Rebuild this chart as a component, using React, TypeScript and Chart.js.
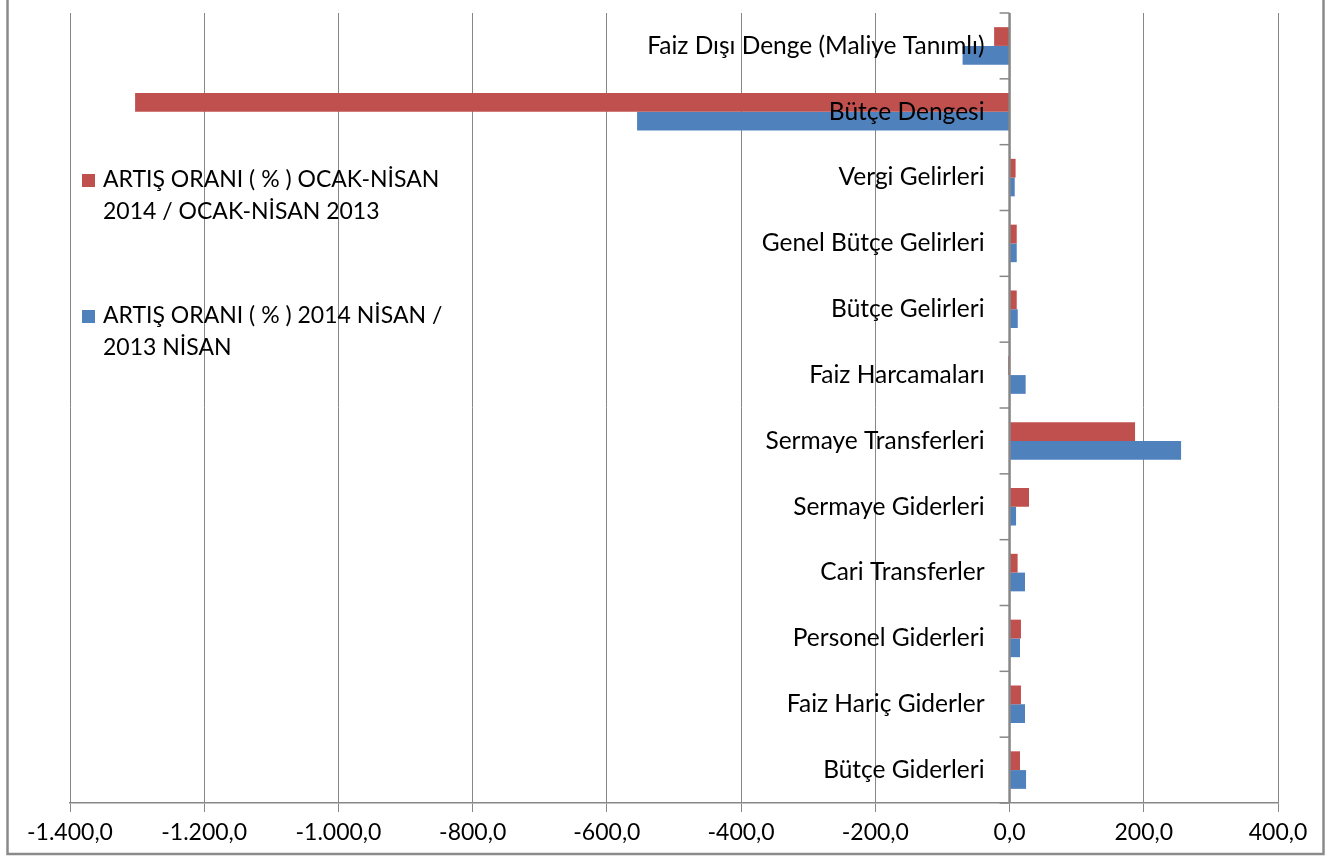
import React, { useEffect, useRef } from 'react';
import { Chart, registerables } from 'chart.js';

Chart.register(...registerables);

const categories = [
  'Faiz Dışı Denge (Maliye Tanımlı)',
  'Bütçe Dengesi',
  'Vergi Gelirleri',
  'Genel Bütçe Gelirleri',
  'Bütçe Gelirleri',
  'Faiz Harcamaları',
  'Sermaye Transferleri',
  'Sermaye Giderleri',
  'Cari Transferler',
  'Personel Giderleri',
  'Faiz Hariç Giderler',
  'Bütçe Giderleri',
];

const redLabelLines = ['ARTIŞ ORANI ( % ) OCAK-NİSAN', '2014 / OCAK-NİSAN 2013'];
const blueLabelLines = ['ARTIŞ ORANI ( % ) 2014 NİSAN /', '2013 NİSAN'];

const redValues = [-23, -1303, 9, 10.7, 10.7, -2, 187, 29, 12, 17, 17, 15.6];
const blueValues = [-70, -555, 7.7, 10.7, 12.2, 24, 255.6, 9.7, 23, 15.6, 23, 24.6];

const xTickValues = [-1400, -1200, -1000, -800, -600, -400, -200, 0, 200, 400];
const xTickLabels = ['-1.400,0', '-1.200,0', '-1.000,0', '-800,0', '-600,0', '-400,0', '-200,0', '0,0', '200,0', '400,0'];

const RED = '#C0504D';
const BLUE = '#4F81BD';
const GRID = '#878787';
const FONT = 'Lato';

const overlayPlugin = {
  id: 'overlay',
  beforeDraw(chart: any) {
    const ctx = chart.ctx;
    ctx.save();
    ctx.fillStyle = '#ffffff';
    ctx.fillRect(0, 0, chart.width, chart.height);
    ctx.strokeStyle = '#8a8a8a';
    ctx.lineWidth = 2.5;
    ctx.strokeRect(7.5, -5, 1316, 859);
    ctx.restore();
  },
  afterDatasetsDraw(chart: any) {
    const ctx = chart.ctx;
    const x = chart.scales.x;
    const y = chart.scales.y;
    const area = chart.chartArea;
    const zx = x.getPixelForValue(0);
    ctx.save();
    // zero axis line
    ctx.strokeStyle = GRID;
    ctx.lineWidth = 2.5;
    ctx.beginPath();
    ctx.moveTo(zx, area.top);
    ctx.lineTo(zx, area.bottom);
    ctx.stroke();
    // category tick marks
    ctx.lineWidth = 1.5;
    const n = categories.length;
    const step = (area.bottom - area.top) / n;
    for (let i = 0; i <= n; i++) {
      const yy = area.top + i * step;
      ctx.beginPath();
      ctx.moveTo(zx - 10, yy);
      ctx.lineTo(zx, yy);
      ctx.stroke();
    }
    // category labels
    ctx.fillStyle = '#000000';
    ctx.font = `24.5px ${FONT}`;
    ctx.textAlign = 'right';
    ctx.textBaseline = 'middle';
    categories.forEach((c, i) => {
      const yy = y.getPixelForValue(i);
      ctx.fillText(c, zx - 25, yy);
    });
    // legend
    ctx.font = `23px ${FONT}`;
    ctx.textAlign = 'left';
    const drawEntry = (color: string, lines: string[], top: number) => {
      ctx.fillStyle = color;
      ctx.fillRect(82, top - 6, 13, 13);
      ctx.fillStyle = '#000000';
      lines.forEach((l, k) => ctx.fillText(l, 103, top + k * 32));
    };
    drawEntry(RED, redLabelLines, 180);
    drawEntry(BLUE, blueLabelLines, 316);
    ctx.restore();
  },
};

export default function App() {
  const ref = useRef<HTMLCanvasElement | null>(null);
  useEffect(() => {
    if (!ref.current) return;
    const chart = new Chart(ref.current, {
      type: 'bar',
      data: {
        labels: categories,
        datasets: [
          {
            label: redLabelLines.join(' '),
            data: redValues,
            backgroundColor: RED,
            barPercentage: 1,
            categoryPercentage: 0.57,
          },
          {
            label: blueLabelLines.join(' '),
            data: blueValues,
            backgroundColor: BLUE,
            barPercentage: 1,
            categoryPercentage: 0.57,
          },
        ],
      },
      options: {
        indexAxis: 'y',
        responsive: false,
        animation: false,
        devicePixelRatio: 1,
        layout: { padding: { left: 70, right: 56, top: 13, bottom: 0 } },
        plugins: {
          legend: { display: false },
          tooltip: { enabled: false },
        },
        scales: {
          x: {
            type: 'linear',
            min: -1400,
            max: 400,
            afterBuildTicks(scale: any) {
              scale.ticks = xTickValues.map((v) => ({ value: v }));
            },
            afterFit(scale: any) {
              scale.height = 58;
            },
            ticks: {
              autoSkip: false,
              maxRotation: 0,
              padding: 7,
              color: '#000000',
              font: { family: FONT, size: 23 },
              callback: (v: any) => {
                const i = xTickValues.indexOf(Number(v));
                return i >= 0 ? xTickLabels[i] : '';
              },
            },
            grid: {
              color: GRID,
              lineWidth: 1,
              tickLength: 9,
              drawTicks: true,
            },
            border: { display: true, color: GRID, width: 1.5 },
          },
          y: {
            type: 'category',
            display: false,
            grid: { display: false },
          },
        },
      },
      plugins: [overlayPlugin],
    });
    return () => chart.destroy();
  }, []);
  return (
    <div style={{ position: 'absolute', left: 0, top: 0, width: 1334, height: 861, background: '#fff' }}>
      <canvas ref={ref} width={1334} height={861} />
    </div>
  );
}
